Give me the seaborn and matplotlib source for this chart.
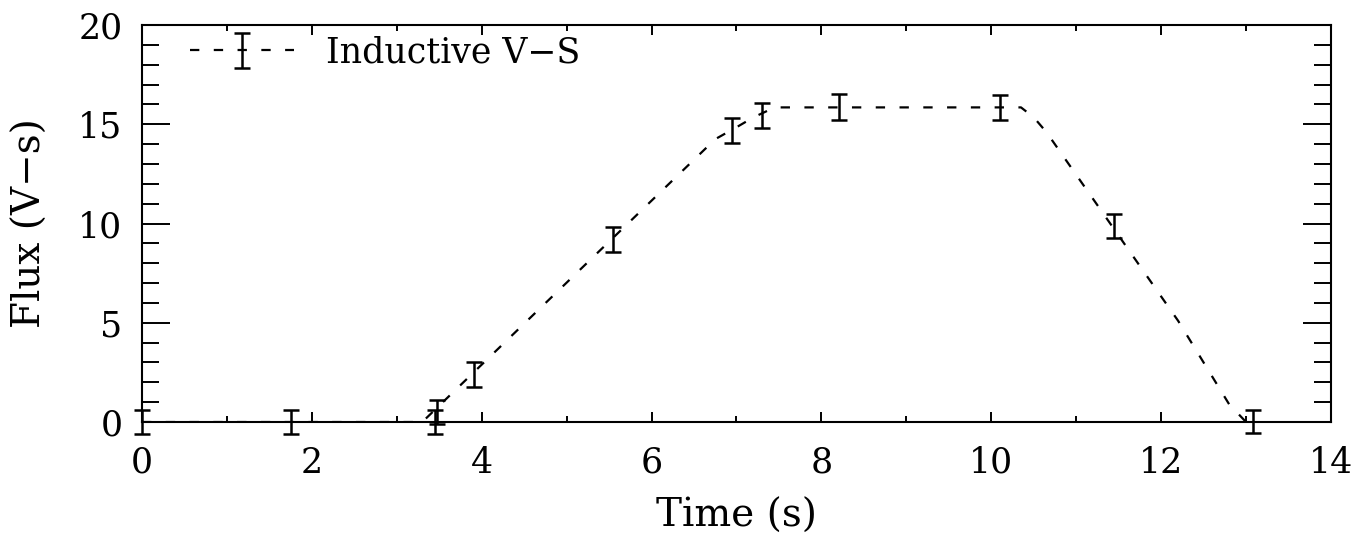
import numpy as np
import pandas as pd
import matplotlib
matplotlib.use("Agg")
import matplotlib.pyplot as plt
import seaborn as sns
from matplotlib.ticker import MultipleLocator
from matplotlib.legend_handler import HandlerTuple

# measured points with error bars
pt_time = [0.0, 1.76, 3.45, 3.47, 3.91, 5.55, 6.95, 7.30, 8.21, 10.10, 11.45, 13.08]
pt_flux = [0.0, 0.0, 0.0, 0.5, 2.38, 9.19, 14.67, 15.44, 15.87, 15.84, 9.86, 0.03]
pt_err = [0.6, 0.6, 0.6, 0.6, 0.63, 0.64, 0.63, 0.64, 0.65, 0.63, 0.61, 0.6]

# dashed curve
line_time = [0.0, 3.3, 6.75, 7.0, 7.2, 7.45, 10.35, 10.5, 10.65, 12.2, 12.8, 13.0]
line_flux = [0.0, 0.0, 14.25, 14.85, 15.35, 15.85, 15.85, 15.35, 14.6, 5.1, 0.9, 0.0]

label_text = "Inductive V\u2212S"

sns.set_theme(style="ticks")
plt.rcParams["font.family"] = ["DejaVu Serif", "DejaVu Sans"]
plt.rcParams["text.color"] = "black"
plt.rcParams["axes.labelcolor"] = "black"
plt.rcParams["xtick.color"] = "black"
plt.rcParams["ytick.color"] = "black"

fig = plt.figure(figsize=(13.72, 5.5), dpi=100)
ax = fig.add_axes([0.1035, 0.2327, 0.8666, 0.7218])

df = pd.DataFrame({"Time": line_time, "Flux": line_flux})
sns.lineplot(data=df, x="Time", y="Flux", sort=False, estimator=None, ax=ax,
             color="black", linewidth=1.6, linestyle=(0, (4.2, 6.5)))
line_handle = ax.lines[0]

eb = ax.errorbar(pt_time, pt_flux, yerr=pt_err, fmt="none", ecolor="black",
                 elinewidth=1.8, capsize=5.5, capthick=1.8, clip_on=False, zorder=3)
for art in list(eb.lines[1]) + list(eb.lines[2]):
    art.set_clip_on(False)

ax.set_xlim(0, 14)
ax.set_ylim(0, 20)
ax.xaxis.set_major_locator(MultipleLocator(2))
ax.xaxis.set_minor_locator(MultipleLocator(1))
ax.yaxis.set_major_locator(MultipleLocator(5))
ax.yaxis.set_minor_locator(MultipleLocator(1))

ax.tick_params(axis="both", which="both", direction="in", top=True, right=True,
               color="black", labelcolor="black", width=1.4)
ax.tick_params(axis="x", which="major", length=7, pad=17, labelsize=25)
ax.tick_params(axis="x", which="minor", length=4.5)
ax.tick_params(axis="y", which="major", length=20, pad=14, labelsize=25)
ax.tick_params(axis="y", which="minor", length=12)

for sp in ax.spines.values():
    sp.set_visible(True)
    sp.set_linewidth(1.5)
    sp.set_color("black")

ax.set_xlabel("Time (s)", fontsize=28, color="black")
ax.set_ylabel("Flux (V\u2212s)", fontsize=28, color="black")
ax.xaxis.set_label_coords(0.5, -0.19)
ax.yaxis.set_label_coords(-0.078, 0.5)

leg = ax.legend(handles=[(line_handle, eb)], labels=[label_text],
                handler_map={tuple: HandlerTuple(ndivide=1, pad=0)},
                loc="upper left", frameon=False, fontsize=25,
                handlelength=3.0, handletextpad=0.9,
                bbox_to_anchor=(0.02, 1.035), borderaxespad=0.3)
for t in leg.get_texts():
    t.set_color("black")

fig.savefig("out.png", dpi=100)
